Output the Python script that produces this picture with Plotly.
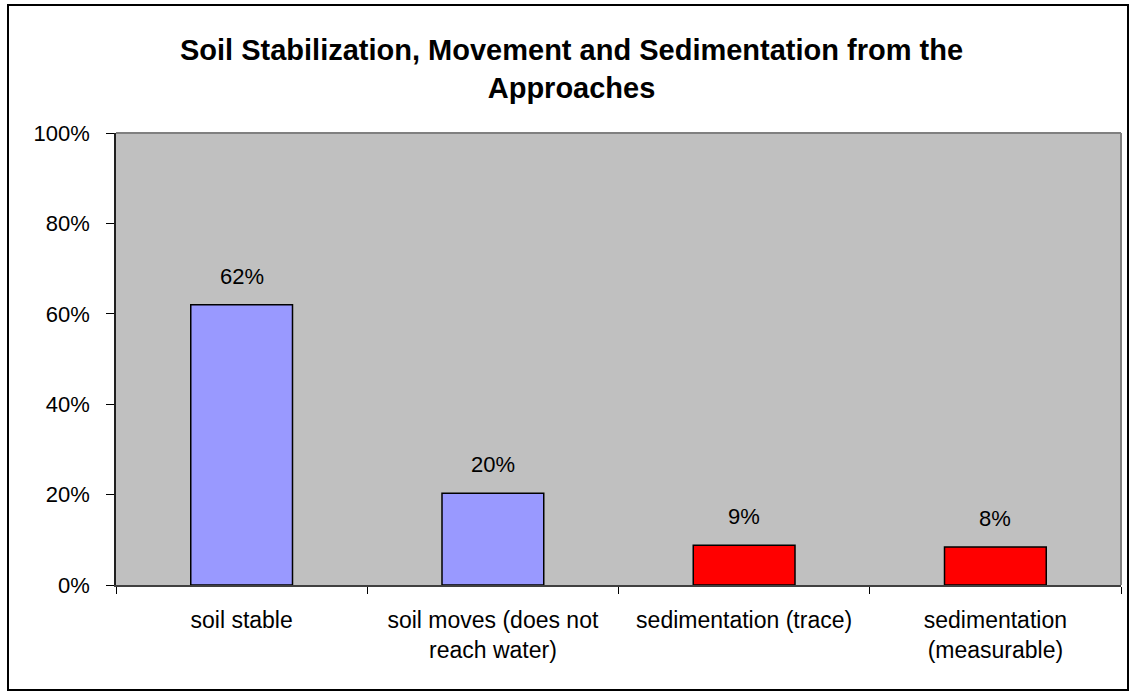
import plotly.graph_objects as go

categories = ["soil stable", "soil moves (does not<br>reach water)", "sedimentation (trace)", "sedimentation<br>(measurable)"]
values = [0.62, 0.203, 0.088, 0.084]
colors = ["#9999FF", "#9999FF", "#FF0000", "#FF0000"]
title_text = "<b>Soil Stabilization, Movement and Sedimentation from the<br>Approaches</b>"
ytick_vals = [0, 0.2, 0.4, 0.6, 0.8, 1.0]
ytick_text = ["0%", "20%", "40%", "60%", "80%", "100%"]

FONT = "Liberation Sans, Arial, sans-serif"
FS = 22

fig = go.Figure()
fig.add_trace(go.Bar(
    x=categories, y=values,
    marker=dict(color=colors, line=dict(color="#000000", width=1.5)),
    width=0.405,
    hoverinfo="skip",
))

for c, v in zip(categories, values):
    fig.add_annotation(x=c, y=v, text=f"{v:.0%}", showarrow=False,
                       yanchor="bottom", yshift=14,
                       font=dict(family=FONT, size=FS, color="#000000"))

L, R, T, B = 116, 13, 133, 109
W, H = 1134, 694
pw, ph = W - L - R, H - T - B

def px_x(px):
    return (px - L) / pw

def px_y(py):
    return (H - B - py) / ph

fig.update_layout(
    width=W, height=H,
    margin=dict(l=L, r=R, t=T, b=B, pad=0),
    paper_bgcolor="#FFFFFF",
    plot_bgcolor="#C0C0C0",
    showlegend=False,
    title=dict(text=title_text, x=0.504, xanchor="center", y=0.913, yanchor="middle",
               font=dict(family=FONT, size=29, color="#000000")),
    font=dict(family=FONT, size=FS, color="#000000"),
    xaxis=dict(
        type="category", tickson="boundaries", ticks="outside", ticklen=7,
        tickcolor="#000000", tickwidth=1,
        showline=True, linecolor="#404040", linewidth=2,
        showgrid=False, zeroline=False,
        tickfont=dict(family=FONT, size=23, color="#000000"),
        ticklabelstandoff=13,
        range=[-0.5, 3.5],
    ),
    yaxis=dict(
        range=[0, 1.0], tickvals=ytick_vals, ticktext=ytick_text,
        ticks="outside", ticklen=8, tickcolor="#000000", tickwidth=1,
        showline=True, linecolor="#202020", linewidth=1.5,
        showgrid=False, zeroline=False,
        tickfont=dict(family=FONT, size=FS, color="#000000"),
        ticklabelstandoff=12,
    ),
    shapes=[
        dict(type="line", xref="paper", yref="paper", x0=0, x1=1, y0=1, y1=1,
             line=dict(color="#808080", width=2)),
        dict(type="line", xref="paper", yref="paper", x0=1, x1=1, y0=0, y1=1,
             line=dict(color="#808080", width=2)),
        dict(type="rect", xref="paper", yref="paper",
             x0=px_x(8), x1=px_x(1128), y0=px_y(690), y1=px_y(5),
             line=dict(color="#000000", width=2), fillcolor="rgba(0,0,0,0)", layer="above"),
    ],
)

fig.write_html("out.html", config={"displayModeBar": False},
               post_script="document.body.style.margin='0';")
